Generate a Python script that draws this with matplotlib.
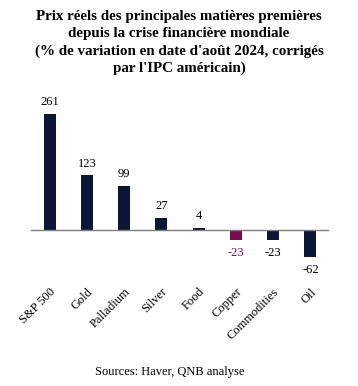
import matplotlib
matplotlib.use('Agg')
import matplotlib.pyplot as plt

categories = ['S&P 500', 'Gold', 'Palladium', 'Silver', 'Food', 'Copper', 'Commodities', 'Oil']
values = [261, 123, 99, 27, 4, -23, -23, -62]
highlight = 'Copper'

navy = '#0b1535'
maroon = '#7b0c52'

plt.rcParams['font.family'] = ['Liberation Serif', 'DejaVu Serif']

fig = plt.figure(figsize=(3.58, 3.86), dpi=100)
ax = fig.add_axes([0.0866, 0.324, 0.8324, 0.4145])

x = list(range(len(categories)))
colors = [maroon if c == highlight else navy for c in categories]
ax.bar(x, values, width=0.32, color=colors, zorder=2)
ax.axhline(0, color='#7f7f7f', lw=1.0, zorder=3)

for xi, v, c in zip(x, values, colors):
    if v >= 0:
        ax.annotate(str(v), (xi, v), xytext=(0, 4), textcoords='offset points',
                    ha='center', va='bottom', fontsize=9, color='black' if c == navy else c)
    else:
        ax.annotate(str(v), (xi, v), xytext=(0, -5), textcoords='offset points',
                    ha='center', va='top', fontsize=9, color='black' if c == navy else c)

ax.set_xlim(-0.5, len(categories) - 0.5)
ax.set_ylim(-70, 290)
ax.set_yticks([])
ax.set_xticks(x)
ax.set_xticklabels(categories, rotation=45, ha='right', rotation_mode='anchor', fontsize=9)
ax.tick_params(axis='x', length=0, pad=18)
for s in ax.spines.values():
    s.set_visible(False)

fig.text(0.5, 0.975, "Prix réels des principales matières premières\n"
         "depuis la crise financière mondiale\n"
         "(% de variation en date d'août 2024, corrigés\n"
         "par l'IPC américain)",
         ha='center', va='top', fontsize=10.8, fontweight='bold', linespacing=1.42)

fig.text(0.475, 0.037, 'Sources: Haver, QNB analyse', ha='center', va='center', fontsize=9)

fig.savefig('out.png', dpi=100)
